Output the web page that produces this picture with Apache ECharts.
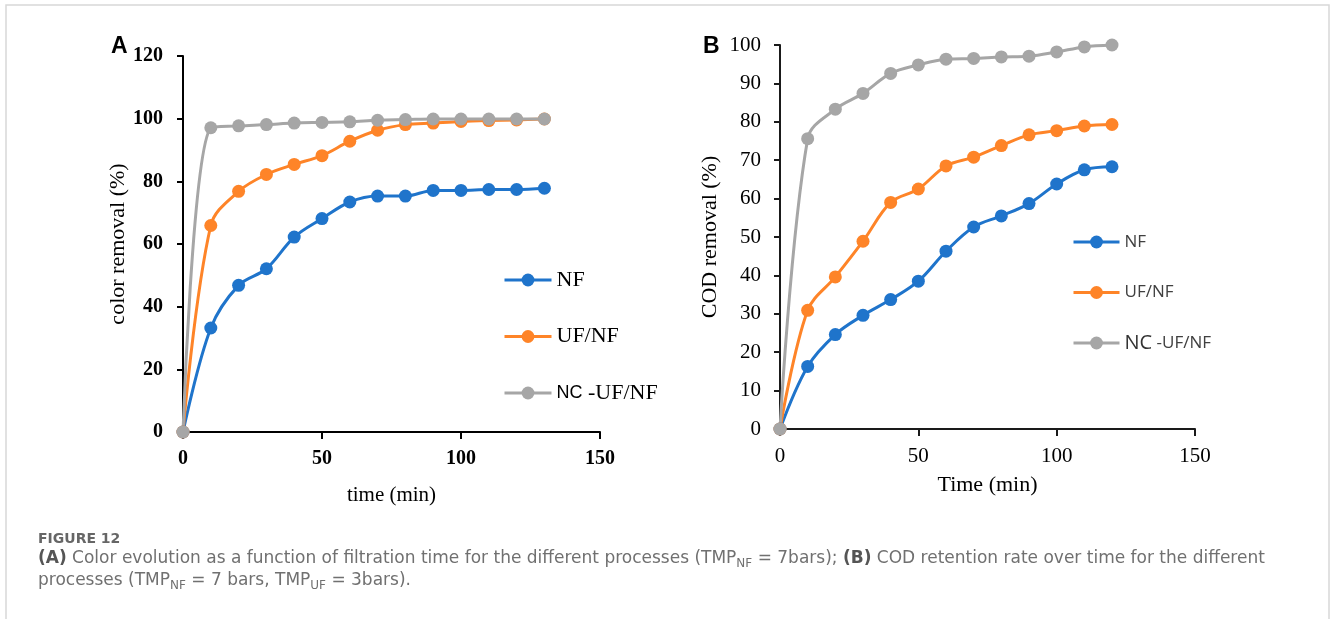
<!DOCTYPE html>
<html><head><meta charset="utf-8">
<script src="https://cdn.jsdelivr.net/npm/echarts@6/dist/echarts.min.js"></script>
<style>html,body{margin:0;padding:0;background:#fff}#c{width:1330px;height:619px}</style>
</head><body><div id="c"></div>
<script>
// Panel A: color removal (%)
const timeA = [0,10,20,30,40,50,60,70,80,90,100,110,120,130];
const colorNF = [0,33.2,46.8,52.1,62.2,68.1,73.4,75.3,75.3,77.1,77.1,77.4,77.4,77.8];
const colorUFNF = [0,65.9,76.8,82.2,85.4,88.2,92.8,96.3,98.1,98.6,99.1,99.4,99.6,99.9];
const colorNCUFNF = [0,97.1,97.7,98.1,98.6,98.8,99.0,99.5,99.7,99.9,99.9,99.9,99.9,99.9];
// Panel B: COD removal (%)
const timeB = [0,10,20,30,40,50,60,70,80,90,100,110,120];
const codNF = [0,16.3,24.6,29.6,33.7,38.5,46.3,52.6,55.5,58.7,63.8,67.5,68.3];
const codUFNF = [0,30.9,39.6,48.9,59.0,62.5,68.5,70.8,73.8,76.6,77.7,78.9,79.3];
const codNCUFNF = [0,75.6,83.3,87.4,92.6,94.8,96.3,96.5,96.9,97.1,98.2,99.5,100];
const seriesNames = ['NF','UF/NF','NC -UF/NF'];
const colors = ['#1f74cb','#fe8428','#a6a6a6'];

const pairs = (xs, ys) => xs.map((x, i) => [x, ys[i]]);
const serif = 'Liberation Serif, Times New Roman, serif';
const sans = 'Liberation Sans, Arial, sans-serif';
const capFont = 'DejaVu Sans, sans-serif';

function mkSeries(name, xs, ys, idx, c) {
  return {
    name: name, type: 'line', xAxisIndex: idx, yAxisIndex: idx,
    data: pairs(xs, ys), smooth: 0.35,
    symbol: 'circle', symbolSize: 13, showSymbol: true,
    lineStyle: {color: c, width: 3}, itemStyle: {color: c},
    animation: false, z: 2
  };
}

const chart = echarts.init(document.getElementById('c'), null, {renderer: 'canvas'});
const option = {
  animation: false,
  color: colors,
  grid: [
    {left: 183, top: 56, width: 417, height: 376},
    {left: 780, top: 45, width: 415, height: 384}
  ],
  xAxis: [
    {gridIndex: 0, type: 'value', min: 0, max: 150, interval: 50,
     name: 'time (min)', nameLocation: 'middle', nameGap: 53,
     nameTextStyle: {fontFamily: serif, fontSize: 21, color: '#000'},
     axisLine: {lineStyle: {color: '#000', width: 2}},
     axisTick: {show: true, length: 7, lineStyle: {color: '#000', width: 2}},
     axisLabel: {fontFamily: serif, fontWeight: 'bold', fontSize: 20, color: '#000', margin: 17},
     splitLine: {show: false}},
    {gridIndex: 1, type: 'value', min: 0, max: 150, interval: 50,
     name: 'Time (min)', nameLocation: 'middle', nameGap: 45,
     nameTextStyle: {fontFamily: serif, fontSize: 22, color: '#000'},
     axisLine: {lineStyle: {color: '#1a1a1a', width: 2}},
     axisTick: {show: true, length: 7, lineStyle: {color: '#1a1a1a', width: 2}},
     axisLabel: {fontFamily: serif, fontSize: 21, color: '#000', margin: 17},
     splitLine: {show: false}}
  ],
  yAxis: [
    {gridIndex: 0, type: 'value', min: 0, max: 120, interval: 20,
     name: 'color removal (%)', nameLocation: 'middle', nameGap: 54,
     nameTextStyle: {fontFamily: serif, fontSize: 22, color: '#000'},
     axisLine: {show: true, lineStyle: {color: '#000', width: 2}},
     axisTick: {show: true, length: 6, lineStyle: {color: '#000', width: 2}},
     axisLabel: {fontFamily: serif, fontWeight: 'bold', fontSize: 20, color: '#000', margin: 20},
     splitLine: {show: false}},
    {gridIndex: 1, type: 'value', min: 0, max: 100, interval: 10,
     name: 'COD removal (%)', nameLocation: 'middle', nameGap: 59,
     nameTextStyle: {fontFamily: serif, fontSize: 22, color: '#000'},
     axisLine: {show: true, lineStyle: {color: '#1a1a1a', width: 2}},
     axisTick: {show: true, length: 6, lineStyle: {color: '#1a1a1a', width: 2}},
     axisLabel: {fontFamily: serif, fontSize: 21, color: '#000', margin: 19},
     splitLine: {show: false}}
  ],
  legend: [
    {data: seriesNames, orient: 'vertical', left: 503, top: 269, padding: 0,
     itemWidth: 47, itemHeight: 16, itemGap: 34.5,
     lineStyle: {width: 3},
     formatter: n => n === 'NC -UF/NF' ? '{s|NC} -UF/NF' : n,
     textStyle: {fontFamily: serif, fontSize: 22, lineHeight: 22, color: '#000',
       rich: {s: {fontFamily: sans, fontSize: 18, color: '#000', lineHeight: 22}}}},
    {data: seriesNames, orient: 'vertical', left: 1072, top: 232, padding: 0,
     itemWidth: 46, itemHeight: 16, itemGap: 30.5,
     lineStyle: {width: 3},
     formatter: n => n === 'NC -UF/NF' ? '{s|NC} -UF/NF' : n,
     textStyle: {fontFamily: 'Open Sans, sans-serif', fontSize: 17, lineHeight: 20, color: '#404040',
       rich: {s: {fontFamily: 'Open Sans, sans-serif', fontSize: 20, color: '#333', lineHeight: 20}}}}
  ],
  series: [
    mkSeries(seriesNames[0], timeA, colorNF, 0, colors[0]),
    mkSeries(seriesNames[1], timeA, colorUFNF, 0, colors[1]),
    mkSeries(seriesNames[2], timeA, colorNCUFNF, 0, colors[2]),
    mkSeries(seriesNames[0], timeB, codNF, 1, colors[0]),
    mkSeries(seriesNames[1], timeB, codUFNF, 1, colors[1]),
    mkSeries(seriesNames[2], timeB, codNCUFNF, 1, colors[2])
  ],
  graphic: [
    {type: 'rect', shape: {x: 6, y: 5, width: 1323, height: 700},
     style: {fill: 'none', stroke: '#d8d8d8', lineWidth: 1.5}, silent: true},
    {type: 'text', left: 111, top: 35,
     style: {text: 'A', font: 'bold 23px ' + sans, fill: '#000'}},
    {type: 'text', left: 703, top: 35,
     style: {text: 'B', font: 'bold 23px ' + sans, fill: '#000'}},
    {type: 'text', left: 38, top: 532,
     style: {text: 'FIGURE 12', font: 'bold 14px ' + capFont, fill: '#666'}},
    {type: 'text', left: 38, top: 548,
     style: {
       text: '{b|(A)} Color evolution as a function of filtration time for the different processes (TMP{s|NF} = 7bars); {b|(B)} COD retention rate over time for the different',
       font: '17px ' + capFont, fill: '#707070', lineHeight: 22,
       rich: {
         b: {fontWeight: 'bold', fontSize: 17, fontFamily: capFont, fill: '#555', lineHeight: 22},
         s: {fontSize: 12, fontFamily: capFont, fill: '#707070', lineHeight: 12, verticalAlign: 'bottom'}
       }}},
    {type: 'text', left: 38, top: 570,
     style: {
       text: 'processes (TMP{s|NF} = 7 bars, TMP{s|UF} = 3bars).',
       font: '17px ' + capFont, fill: '#707070', lineHeight: 22,
       rich: {
         s: {fontSize: 12, fontFamily: capFont, fill: '#707070', lineHeight: 12, verticalAlign: 'bottom'}
       }}}
  ]
};
chart.setOption(option);
</script>
</body></html>
